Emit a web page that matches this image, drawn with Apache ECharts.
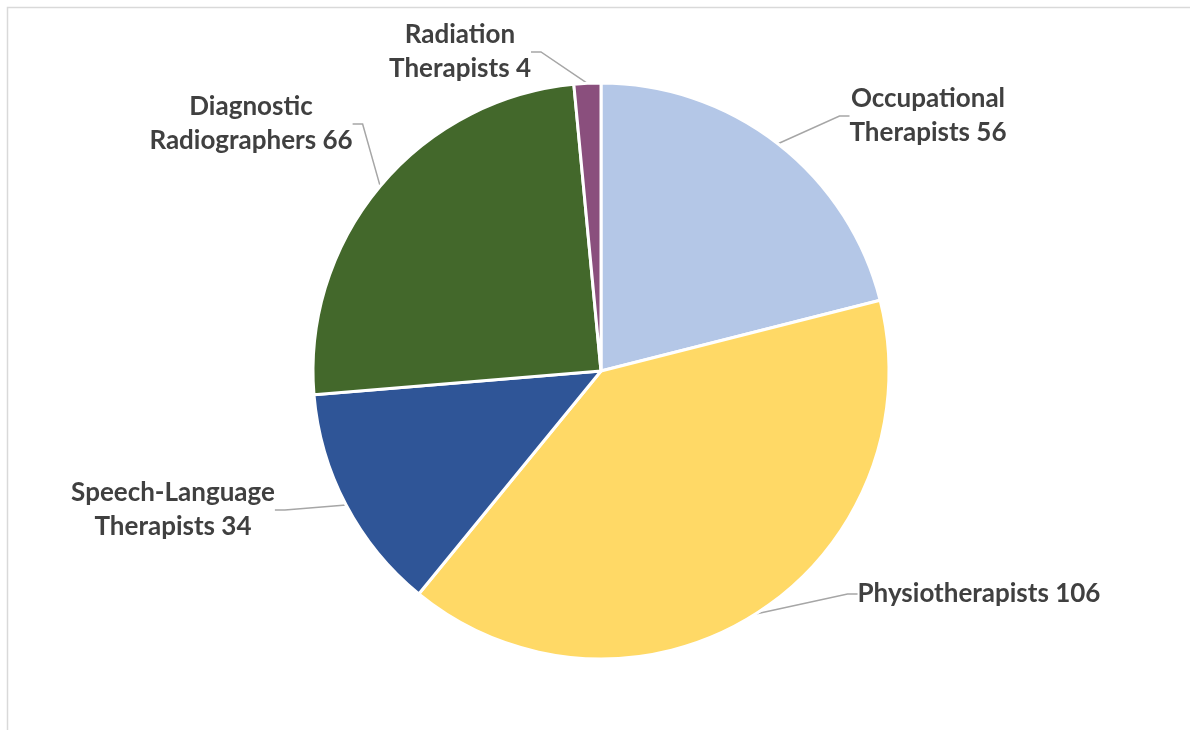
<!DOCTYPE html>
<html>
<head>
<meta charset="utf-8">
<script src="https://cdn.jsdelivr.net/npm/echarts@6/dist/echarts.min.js"></script>
<style>
  html, body { margin: 0; padding: 0; background: #fff; }
  #chart { width: 1190px; height: 730px; }
</style>
</head>
<body>
<div id="chart"></div>
<script>
  // slices, clockwise from 12 o'clock
  var categories = ['Occupational\nTherapists', 'Physiotherapists', 'Speech-Language\nTherapists', 'Diagnostic\nRadiographers', 'Radiation\nTherapists'];
  var values = [56, 106, 34, 66, 4];
  var colors = ['#B4C7E7', '#FFD966', '#2F5597', '#43682B', '#8A4F7D'];
  // where Excel put each label (centre of text block)
  var labelSpots = [[928, 116], [979, 594], [173, 510], [251, 124], [460, 52]];

  var chart = echarts.init(document.getElementById('chart'));
  chart.setOption({
    animation: false,
    graphic: [{
      type: 'rect',
      shape: { x: 7.5, y: 7.5, width: 1300, height: 900 },
      style: { fill: 'none', stroke: '#D9D9D9', lineWidth: 1.5 },
      silent: true
    }],
    series: [{
      type: 'pie',
      center: [601, 371],
      radius: 288,
      startAngle: 90,
      clockwise: true,
      data: categories.map(function (c, i) {
        return { name: c, value: values[i], itemStyle: { color: colors[i] } };
      }),
      itemStyle: { borderColor: '#fff', borderWidth: 3 },
      label: {
        show: true,
        formatter: '{b} {c}',
        fontFamily: 'Lato',
        fontWeight: 'bold',
        fontSize: 26,
        lineHeight: 34,
        color: '#404040',
        align: 'center'
      },
      labelLine: {
        show: true,
        length: 10,
        length2: 10,
        lineStyle: { color: '#A6A6A6', width: 1.5 }
      },
      labelLayout: function (p) {
        var s = labelSpots[p.dataIndex];
        return { x: s[0], y: s[1], align: 'center', verticalAlign: 'middle' };
      }
    }]
  });
</script>
</body>
</html>
